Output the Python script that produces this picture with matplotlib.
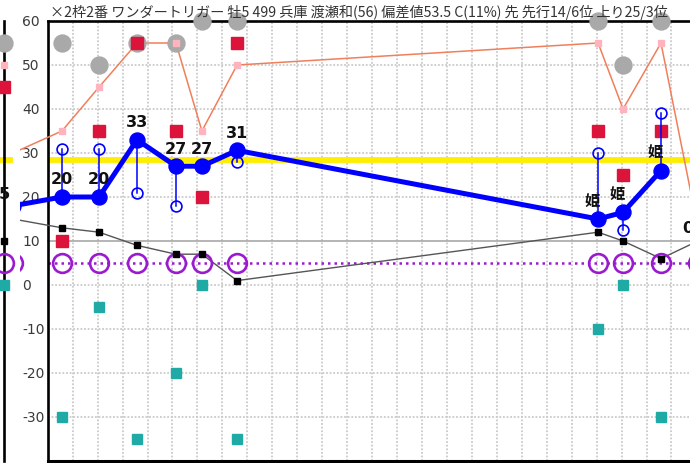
import matplotlib
matplotlib.use('Agg')
import matplotlib.pyplot as plt
import numpy as np

# ---------------- data ----------------
title = "×2枠2番 ワンダートリガー 牡5 499 兵庫 渡瀬和(56) 偏差値53.5 C(11%) 先 先行14/6位 上り25/3位"
race_x = [-1.39, 0.57, 2.06, 3.58, 5.14, 6.18, 7.59, 22.06, 23.06, 24.58, 26.06]
blue_vals = [18, 20, 20, 33, 27, 27, 30.6, 15, 16.5, 26, None]
hollow_vals = [None, 31, 31, 21, 18, None, 28, 30, 12.5, 39, None]
blue_labels = ['', '20', '20', '33', '27', '27', '31', '姫', '姫', '姫', '0']
gray_vals = [None, 55, 50, 55, 55, 60, 60, 60, 50, 60, None]
pink_vals = [30, 35, 45, 55, 55, 35, 50, 55, 40, 55, 13]
red_vals = [None, 10, 35, 55, 35, 20, 55, 35, 25, 35, None]
black_vals = [15, 13, 12, 9, 7, 7, 1, 12, 10, 6, 10]
purple_vals = [5, 5, 5, 5, 5, 5, 5, 5, 5, 5, 5]
teal_vals = [None, -30, -5, -35, -20, 0, -35, -10, 0, -30, None]
yticks = [60, 50, 40, 30, 20, 10, 0, -10, -20, -30]
yellow_level = 28.5
purple_level = 5
solid_level = 10

# neighbour chart fragment on the far left
nb_vals = {'gray': 55, 'pink': 50, 'red': 45, 'black': 10, 'purple': 5, 'teal': 0}
nb_label = '15'
nb_label_y = 20.7

# ---------------- layout ----------------
W, H = 690, 464
PX_CLIP = 20.0
PX_FRAME = 47.7
PX_STEP = 24.95
PX_TOP = 22.0
PX_BOTTOM = 462.0
U_RIGHT = 28
px_right = PX_FRAME + PX_STEP * U_RIGHT

fig = plt.figure(figsize=(W / 100, H / 100), dpi=100)
fig.patch.set_facecolor('white')
ax = fig.add_axes([PX_CLIP / W, (H - PX_BOTTOM) / H, (px_right - PX_CLIP) / W, (PX_BOTTOM - PX_TOP) / H])
ax.set_xlim(-(PX_FRAME - PX_CLIP) / PX_STEP, U_RIGHT)
ax.set_ylim(-40, 60)
ax.axis('off')

def pts(vals):
    xs = [x for x, v in zip(race_x, vals) if v is not None]
    ys = [v for v in vals if v is not None]
    return xs, ys

# grid
gridc = '#cacaca'
for u in range(1, U_RIGHT):
    ax.plot([u, u], [-40, 60], color=gridc, lw=1.3, ls=(0, (1, 1)), zorder=1)
for yv in [50, 40, 30, 20, 0, -10, -20, -30]:
    ax.plot([0, U_RIGHT], [yv, yv], color=gridc, lw=1.3, ls=(0, (1, 1)), zorder=1)
ax.plot([0, U_RIGHT], [solid_level, solid_level], color='#a8a8a8', lw=1.2, zorder=1)

# yellow reference
ax.plot([0, U_RIGHT], [yellow_level, yellow_level], color='#ffee00', lw=4.2, zorder=2, solid_capstyle='butt')
# purple dotted
ax.plot([0, U_RIGHT], [purple_level, purple_level], color='#9a1ad0', lw=1.8, ls=(0, (1, 1.6)), zorder=3)

# frame
ax.plot([0, 0], [-40, 60], color='black', lw=1.9, zorder=3, clip_on=False)
ax.plot([0, U_RIGHT], [60, 60], color='black', lw=1.9, zorder=3, clip_on=False)
ax.plot([0, U_RIGHT], [-40, -40], color='black', lw=2.2, zorder=3, clip_on=False)

# y tick labels
for yv in yticks:
    ax.text((22 - PX_FRAME) / PX_STEP, yv, str(yv),
            ha='left', va='center', fontsize=10, color='#3a3a3a', family='DejaVu Sans', zorder=4)

# black line
xs, ys = pts(black_vals)
ax.plot(xs, ys, color='#555555', lw=1.0, zorder=4)
ax.plot(xs, ys, ls='none', marker='s', ms=4.3, color='black', zorder=7)
# orange line
xs, ys = pts(pink_vals)
ax.plot(xs, ys, color='#f07f5c', lw=1.1, zorder=4)
ax.plot(xs, ys, ls='none', marker='s', ms=3.8, color='#ffb3bd', zorder=6)
# purple circles
xs, ys = pts(purple_vals)
ax.plot(xs, ys, ls='none', marker='o', ms=13.5, mfc='none', mec='#9a1ad0', mew=1.9, zorder=5)
# gray circles
xs, ys = pts(gray_vals)
ax.plot(xs, ys, ls='none', marker='o', ms=12.2, color='#a9a9a9', zorder=5, clip_on=False)
# red squares
xs, ys = pts(red_vals)
ax.plot(xs, ys, ls='none', marker='s', ms=8, color='#dc143c', zorder=7)
# teal squares
xs, ys = pts(teal_vals)
ax.plot(xs, ys, ls='none', marker='s', ms=7.2, color='#20aaa5', zorder=7)

# blue thin connectors + hollow circles
for x, b, h in zip(race_x, blue_vals, hollow_vals):
    if b is not None and h is not None:
        ax.plot([x, x], [b, h], color='#0000ff', lw=1.1, zorder=8)
xs, ys = pts(hollow_vals)
ax.plot(xs, ys, ls='none', marker='o', ms=7.8, mfc='none', mec='#0000ff', mew=1.2, zorder=9)

# blue main line
xs, ys = pts(blue_vals)
ax.plot(xs, ys, color='#0000ff', lw=3.6, zorder=10, solid_joinstyle='round')
ax.plot(xs, ys, ls='none', marker='o', ms=10.8, color='#0000ff', zorder=11)

# labels
for x, b, lab in zip(race_x, blue_vals, blue_labels):
    if not lab:
        continue
    if lab == '姫':
        ax.annotate(lab, (x, b), xytext=(-4.5, 14), textcoords='offset points', ha='center', va='center',
                    fontsize=11, fontweight='bold', family='Noto Sans CJK JP', color='#111111', zorder=12)
    elif b is None:
        ax.annotate(lab, (x, 10), xytext=(-7, 9.5), textcoords='offset points', ha='center', va='center',
                    fontsize=11.5, fontweight='bold', family='DejaVu Sans', color='#111111', zorder=12,
                    annotation_clip=False)
    else:
        ax.annotate(lab, (x, b), xytext=(0, 13), textcoords='offset points', ha='center', va='center',
                    fontsize=11.5, fontweight='bold', family='DejaVu Sans', color='#111111', zorder=12)

# title
fig.text(50 / W, 1 - 12.5 / H, title, ha='left', va='center', fontsize=10.2,
         family=['Noto Sans CJK JP', 'DejaVu Sans'], color='#333333')

# neighbour fragment
axl = fig.add_axes([-40 / W, (H - PX_BOTTOM) / H, 43.5 / W, (PX_BOTTOM - PX_TOP) / H])
axl.set_xlim(0, 1)
axl.set_ylim(-40, 60)
axl.axis('off')
axl.plot([1, 1], [-40, 60], color='black', lw=1.9, clip_on=False, zorder=3)
axl.plot([0, 1.15], [yellow_level, yellow_level], color='#ffee00', lw=4.2, clip_on=False, zorder=2)
nx = 1.02
axl.plot([nx], [nb_vals['gray']], marker='o', ms=12.2, color='#a9a9a9', clip_on=False, zorder=5)
axl.plot([nx], [nb_vals['pink']], marker='s', ms=3.8, color='#ffb3bd', clip_on=False, zorder=6)
axl.plot([nx], [nb_vals['red']], marker='s', ms=8, color='#dc143c', clip_on=False, zorder=7)
axl.plot([nx], [nb_vals['black']], marker='s', ms=4.3, color='black', clip_on=False, zorder=7)
axl.plot([nx], [nb_vals['purple']], marker='o', ms=13.5, mfc='none', mec='#9a1ad0', mew=1.9, clip_on=False, zorder=5)
axl.plot([nx], [nb_vals['teal']], marker='s', ms=7.2, color='#20aaa5', clip_on=False, zorder=7)
axl.text(0.9, nb_label_y, nb_label, ha='center', va='center', fontsize=11.5, fontweight='bold',
         color='#111111', clip_on=False)

fig.savefig('out.png', dpi=100)
